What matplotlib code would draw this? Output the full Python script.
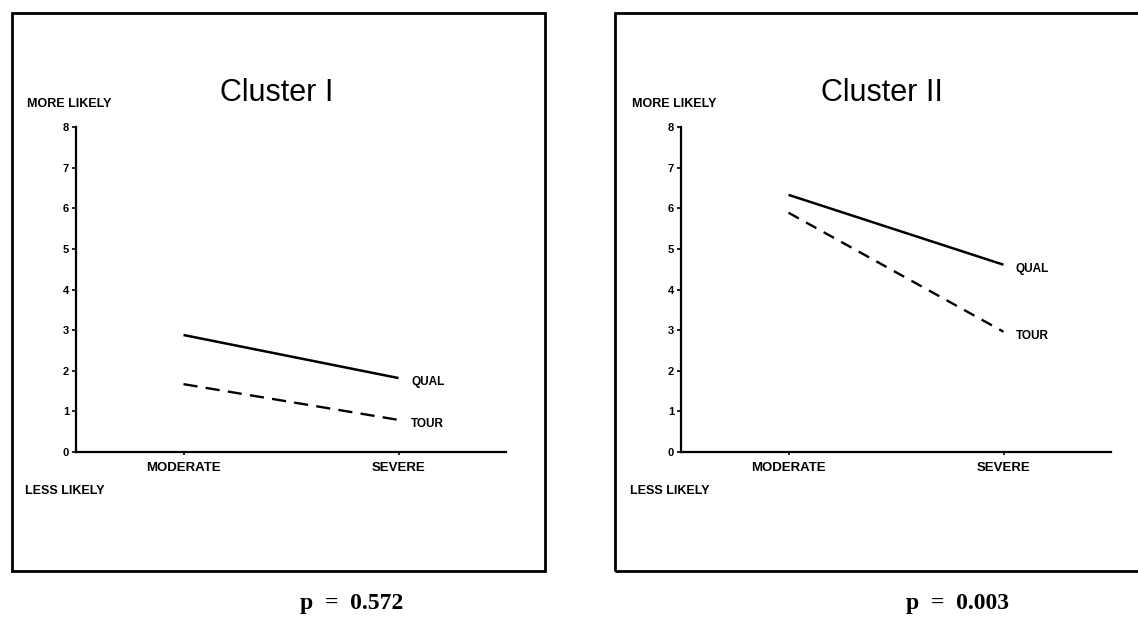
import matplotlib.pyplot as plt
from matplotlib.patches import Rectangle

# values
severity = ['MODERATE', 'SEVERE']
y_ticks = [0, 1, 2, 3, 4, 5, 6, 7, 8]
clusters = ['Cluster I', 'Cluster II']
qual_c1 = [2.88, 1.82]
tour_c1 = [1.67, 0.79]
qual_c2 = [6.33, 4.61]
tour_c2 = [5.89, 2.96]
p_values = ['p  =  0.572', 'p  =  0.003']

W, H = 1138, 622
fig = plt.figure(figsize=(W / 100, H / 100), dpi=100)
fig.patch.set_facecolor('white')

LAB = dict(family='Liberation Sans', weight='bold')


def px(x, y):
    # pixel position (top-left origin) -> figure fraction
    return x / W, 1 - y / H


def panel(x_axis, x_border, title, qual, tour, pval, tour_dash):
    # outer frame of the panel
    fig.patches.append(Rectangle(px(x_border, 571), 533 / W, 558 / H,
                                 transform=fig.transFigure, fill=False,
                                 lw=2.0, ec='black'))
    left, bottom = px(x_axis, 452)
    ax = fig.add_axes([left, bottom, 430 / W, 325 / H])
    xs = [1, 2]
    ax.plot(xs, qual, color='black', lw=1.8, solid_capstyle='butt')
    ax.plot(xs, tour, color='black', lw=1.7, dashes=tour_dash)
    ax.annotate('QUAL', (xs[1], qual[1]), xytext=(9, -3), textcoords='offset points',
                va='center', fontsize=8.5, **LAB)
    ax.annotate('TOUR', (xs[1], tour[1]), xytext=(9, -3), textcoords='offset points',
                va='center', fontsize=8.5, **LAB)
    ax.set_xlim(0.5, 2.5)
    ax.set_ylim(0, 8)
    ax.set_xticks(xs)
    ax.set_xticklabels(severity, fontsize=9.5, **LAB)
    ax.set_yticks(y_ticks)
    ax.set_yticklabels([str(v) for v in y_ticks], fontsize=8, **LAB)
    ax.tick_params(axis='both', length=3, width=1.2, pad=2)
    ax.tick_params(axis='x', length=2, pad=5)
    for s in ['top', 'right']:
        ax.spines[s].set_visible(False)
    for s in ['left', 'bottom']:
        ax.spines[s].set_linewidth(1.6)
    ax.patch.set_alpha(0)

    fig.text(*px(x_axis + 201, 93), title, ha='center', va='center',
             family='Liberation Sans', fontsize=22)
    fig.text(*px(x_axis - 49, 104), 'MORE LIKELY', ha='left', va='center',
             fontsize=9, **LAB)
    fig.text(*px(x_axis - 51, 491), 'LESS LIKELY', ha='left', va='center',
             fontsize=9, **LAB)
    fig.text(*px(x_axis + 276, 604), pval, ha='center', va='center',
             family='Liberation Serif', weight='bold', fontsize=17)


panel(76, 12, clusters[0], qual_c1, tour_c1, p_values[0], (6, 3.5))
panel(681, 615, clusters[1], qual_c2, tour_c2, p_values[1], (5, 3.5))

fig.savefig('out.png', dpi=100, facecolor='white')
